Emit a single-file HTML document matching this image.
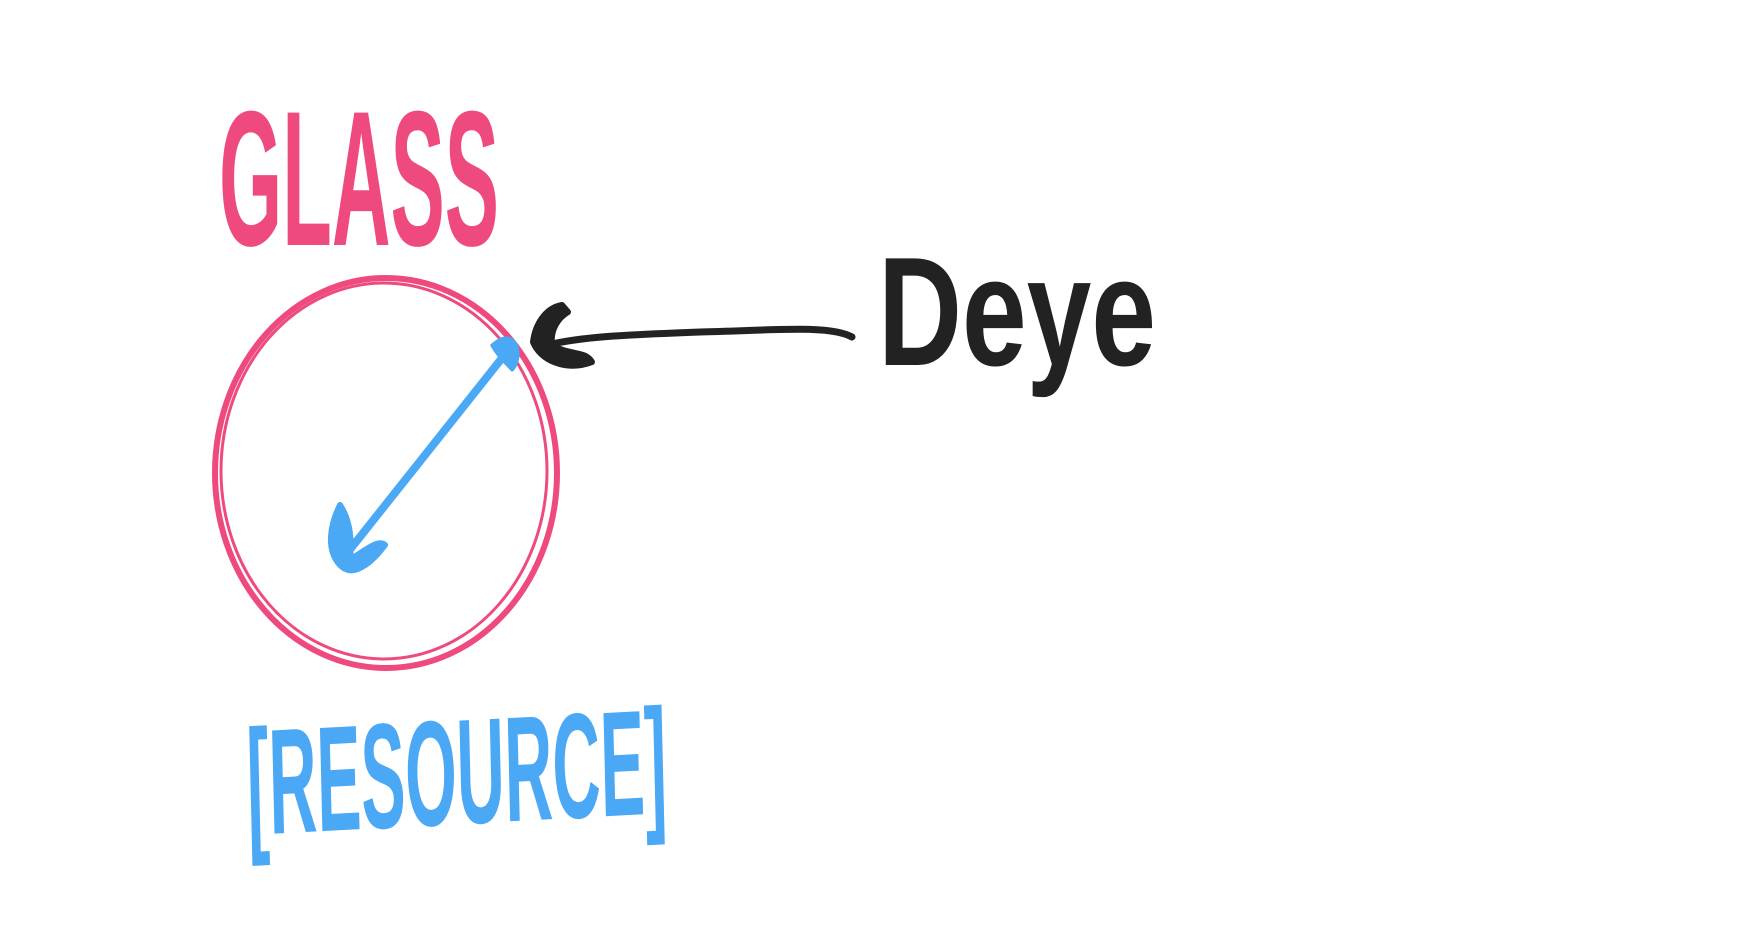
<!DOCTYPE html>
<html><head><meta charset="utf-8"><style>
html,body{margin:0;padding:0;background:#fff;}
svg{display:block}
text{font-family:"Liberation Sans",sans-serif;}
</style></head><body>
<svg width="1744" height="938" viewBox="0 0 1744 938" xmlns="http://www.w3.org/2000/svg">
<rect width="1744" height="938" fill="#fff"/>
<!-- GLASS -->
<g transform="translate(219,245) scale(1,1.75)">
<text x="0" y="0" font-size="110" fill="#ef4a7e" font-weight="bold" textLength="280" lengthAdjust="spacingAndGlyphs">GLASS</text>
</g>
<!-- circle -->
<ellipse cx="386" cy="473" rx="171" ry="195" fill="none" stroke="#ef4a7e" stroke-width="6"/>
<ellipse cx="384" cy="471" rx="163" ry="188" fill="none" stroke="#ef4a7e" stroke-width="3"/>
<!-- blue arrow -->
<line x1="348" y1="552" x2="510" y2="348" stroke="#4aa8f5" stroke-width="8" stroke-linecap="round"/>
<path d="M490 345 C500 335,512 332,518 345 C522 355,518 368,512 372 C505 365,495 355,490 345 Z" fill="#4aa8f5"/>
<path d="M340 505 C330 525,326 550,340 565 C352 578,370 565,385 545 C380 540,372 545,350 560 C352 540,350 520,340 505 Z" fill="#4aa8f5" stroke="#4aa8f5" stroke-width="6" stroke-linejoin="round"/>
<!-- black arrow -->
<path d="M852 337 C830 325,780 330,700 332 C620 335,580 337,548 345" fill="none" stroke="#222" stroke-width="7" stroke-linecap="round"/>
<path d="M562 305 C545 308,535 325,533 342 C540 360,565 372,592 362 C585 350,570 356,552 345 C550 330,558 318,568 312 Z" fill="#222" stroke="#222" stroke-width="6" stroke-linejoin="round"/>
<!-- Deye -->
<g transform="translate(878,365) scale(1,1.55)">
<text x="0" y="0" font-size="100" fill="#222" font-weight="bold" textLength="278" lengthAdjust="spacingAndGlyphs">Deye</text>
</g>
<!-- [RESOURCE] -->
<g transform="translate(248,835) scale(1,1.5) rotate(-2)">
<text x="0" y="0" font-size="100" fill="#4aa8f5" font-weight="bold" textLength="420" lengthAdjust="spacingAndGlyphs">[RESOURCE]</text>
</g>
</svg>
</body></html>
